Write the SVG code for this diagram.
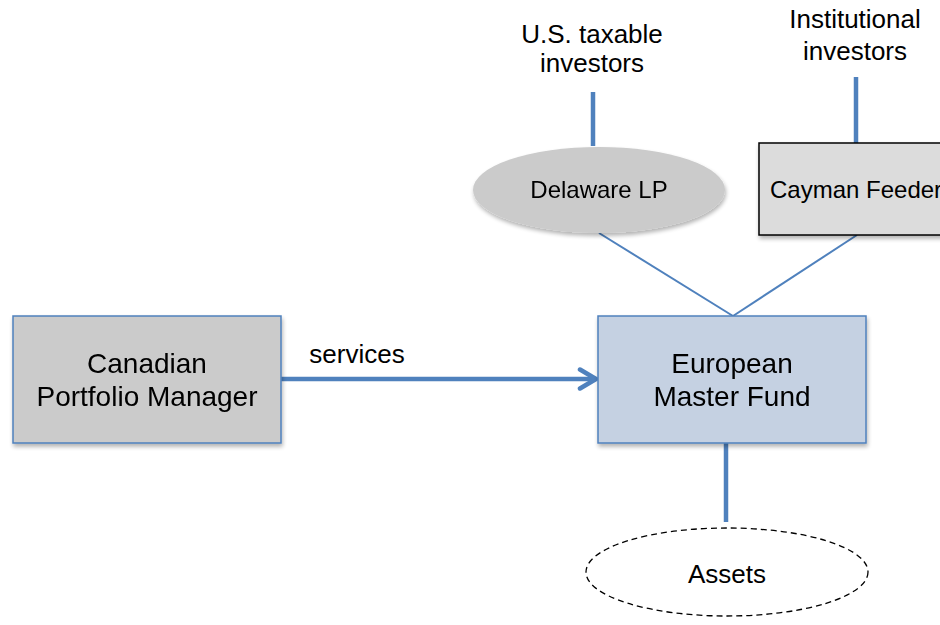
<svg xmlns="http://www.w3.org/2000/svg" width="940" height="625" viewBox="0 0 940 625">
  <defs>
    <filter id="shadow" x="-10%" y="-10%" width="125%" height="130%">
      <feGaussianBlur in="SourceAlpha" stdDeviation="2"/>
      <feOffset dx="1" dy="3" result="b"/>
      <feComponentTransfer><feFuncA type="linear" slope="0.3"/></feComponentTransfer>
      <feMerge><feMergeNode/><feMergeNode in="SourceGraphic"/></feMerge>
    </filter>
    <marker id="chev" viewBox="0 0 22 24" markerWidth="22" markerHeight="24" refX="19" refY="12" orient="auto" markerUnits="userSpaceOnUse">
      <path d="M3,2.5 L19,12 L3,21.5" fill="none" stroke="#4f81bd" stroke-width="4.5" stroke-linecap="round" stroke-linejoin="round"/>
    </marker>
  </defs>
  <style>
    text { font-family: "Liberation Sans", Arial, sans-serif; fill: #000; text-anchor: middle; }
    .big { font-size: 28px; }
    .top { font-size: 26px; }
    .sm { font-size: 24px; }
    .lbl { font-size: 26px; }
    .thick { stroke: #4f81bd; stroke-width: 4.5; fill: none; }
    .thin { stroke: #4f81bd; stroke-width: 2; fill: none; }
  </style>
  <rect width="940" height="625" fill="#fff"/>

  <!-- connectors -->
  <g id="connectors">
    <line class="thick" x1="593" y1="92" x2="593" y2="146"/>
    <line class="thick" x1="856" y1="77" x2="856" y2="143"/>
    <line class="thin" x1="599" y1="233" x2="733" y2="316"/>
    <line class="thin" x1="857" y1="235" x2="733" y2="316"/>
    <line class="thick" x1="281" y1="379" x2="596" y2="379" marker-end="url(#chev)"/>
    <line class="thick" x1="726" y1="443" x2="726" y2="522"/>
    <text class="lbl" x="357" y="363">services</text>
  </g>

  <g id="us-investors">
    <text class="top" x="592" y="43">U.S. taxable</text>
    <text class="top" x="592" y="72">investors</text>
  </g>

  <g id="institutional-investors">
    <text class="top" x="855" y="28">Institutional</text>
    <text class="top" x="855" y="60">investors</text>
  </g>

  <g id="delaware-lp" filter="url(#shadow)">
    <ellipse cx="599" cy="190" rx="126" ry="43" fill="#cbcbcb"/>
    <text class="sm" x="599" y="198">Delaware LP</text>
  </g>

  <g id="cayman-feeder">
    <rect x="759" y="143" width="190" height="92" fill="#dcdcdc" stroke="#000" stroke-width="1.5" filter="url(#shadow)"/>
    <text class="sm" x="770" y="198" style="text-anchor:start">Cayman Feeder</text>
  </g>

  <g id="canadian-pm" filter="url(#shadow)">
    <rect x="13" y="316" width="268" height="127" fill="#cbcbcb" stroke="#4f81bd" stroke-width="1.5"/>
    <text class="big" x="147" y="373">Canadian</text>
    <text class="big" x="147" y="406">Portfolio Manager</text>
  </g>

  <g id="european-master-fund" filter="url(#shadow)">
    <rect x="598" y="316" width="268" height="127" fill="#c5d1e2" stroke="#4f81bd" stroke-width="1.5"/>
    <text class="big" x="732" y="373">European</text>
    <text class="big" x="732" y="406">Master Fund</text>
  </g>

  <g id="assets">
    <ellipse cx="727" cy="572" rx="141" ry="44" fill="#fff" stroke="#000" stroke-width="1.3" stroke-dasharray="6,4"/>
    <text class="lbl" x="727" y="583">Assets</text>
  </g>
</svg>
